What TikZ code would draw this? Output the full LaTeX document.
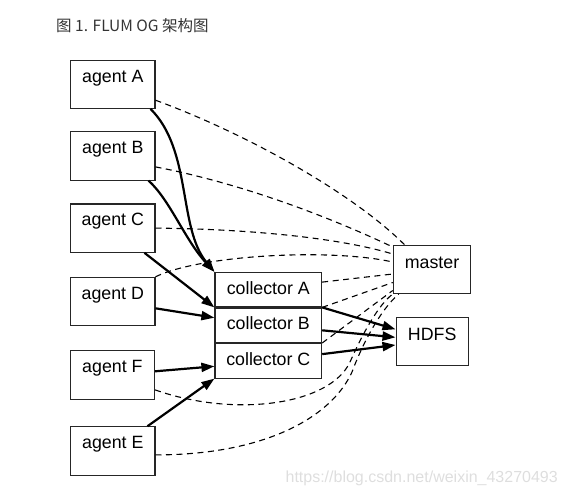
\documentclass[tikz,border=0pt]{standalone}
\usepackage{fontspec}
\setmainfont{Liberation Sans}
\newfontfamily\cjkfont{Noto Sans CJK SC}
\usetikzlibrary{arrows.meta,positioning}

\begin{document}
\begin{tikzpicture}[
        x=1pt, y=-1pt,
        % Styles
        box/.style={
            rectangle,
            draw=black!85,
            line width=1.1pt,
            inner sep=0pt,
            font=\fontsize{17.8}{20}\selectfont
        },
        agentbox/.style={
            box,
            minimum width=84.3pt,
            minimum height=48.3pt,
            text height=22pt,
            text depth=26.3pt
        },
        collectorbox/.style={
            box,
            minimum width=106.7pt,
            minimum height=34.5pt,
            text height=21.9pt,
            text depth=12.6pt
        },
        sinkbox/.style={
            box,
            minimum height=48pt,
            text height=22.6pt,
            text depth=25.4pt
        },
        flow/.style={
            -{Triangle[length=13pt,width=9pt]},
            line width=2.2pt
        },
        ctrlline/.style={
            dash pattern=on 6pt off 4.5pt,
            line width=1.1pt
        }
    ]

    % Page
    \useasboundingbox (0,0) rectangle (568,496);

    % Title
    \node[anchor=base west, inner sep=0pt, text=black!80,
          font=\cjkfont\fontsize{15.5}{18}\selectfont] (title) at (56,31) {图 1. FLUM OG 架构图};

    % Agents
    \node[agentbox] (agA) at (112.8,84.2) {agent A};
    \node[agentbox] (agB) at (112.8,155.9) {agent B};
    \node[agentbox] (agC) at (112.8,228.1) {agent C};
    \node[agentbox] (agD) at (112.8,301.5) {agent D};
    \node[agentbox] (agF) at (112.4,374.9) {agent F};
    \node[agentbox] (agE) at (112.8,450.9) {agent E};

    % Collectors
    \node[collectorbox] (colA) at (268.3,289.6) {collector A};
    \node[collectorbox, below=0pt of colA] (colB) {collector B};
    \node[collectorbox, below=0pt of colB] (colC) {collector C};

    % Master and HDFS
    \node[sinkbox, minimum width=77.4pt] (master) at (432,269.5) {master};
    \node[sinkbox, minimum width=72.3pt] (hdfs) at (432.2,341.5) {HDFS};

    % Control lines to master
    \draw[ctrlline] ([yshift=-16pt]agA.east) .. controls (250,135) and (355,195) .. ([xshift=12pt]master.north west);
    \draw[ctrlline] ([yshift=-11pt]agB.east) .. controls (250,185) and (340,222) .. ([yshift=22.5pt]master.west);
    \draw[ctrlline] (agC.east) .. controls (250,229) and (340,238) .. ([yshift=15.5pt]master.west);
    \draw[ctrlline] (agD.north east) .. controls (200,255) and (330,248) .. ([yshift=7.5pt]master.west);
    \draw[ctrlline] ([yshift=7.5pt]colA.east) -- ([yshift=-4.5pt]master.west);
    \draw[ctrlline] (colB.north east) -- ([yshift=-13pt]master.west);
    \draw[ctrlline] (colC.north east) -- ([yshift=-21pt]master.west);
    \draw[ctrlline] ([yshift=-15pt]agF.east) .. controls (235,418) and (330,405) .. (350,362)
        .. controls (362,335) and (378,305) .. (master.south west);
    \draw[ctrlline] ([yshift=-4pt]agE.east) .. controls (260,455) and (330,420) .. (352,372)
        .. controls (362,345) and (380,310) .. ([xshift=6pt]master.south west);

    % Data flow agents -> collectors
    \draw[flow] ([xshift=-5pt]agA.south east) .. controls (192,150) and (178,228) .. (colA.north west);
    \draw[flow] ([xshift=-7pt]agB.south east) .. controls (170,200) and (185,240) .. (colA.north west);
    \draw[flow] (agC) -- (colB.north west);
    \draw[flow] (agD) -- ([yshift=7.5pt]colB.west);
    \draw[flow] (agF) -- ([yshift=-5.5pt]colC.west);
    \draw[flow] (agE) -- (colC.south west);

    % Data flow collectors -> HDFS
    \draw[flow] (colA.south east) -- ([yshift=12.2pt]hdfs.west);
    \draw[flow] (colB) -- ([yshift=4.2pt]hdfs.west);
    \draw[flow] (colC) -- ([yshift=-3.5pt]hdfs.west);

    % Watermark
    \node[anchor=base east, inner sep=0pt, text=black!13,
          font=\fontsize{16}{18}\selectfont] (mark) at (558,482) {https://blog.csdn.net/weixin\_43270493};

\end{tikzpicture}
\end{document}
